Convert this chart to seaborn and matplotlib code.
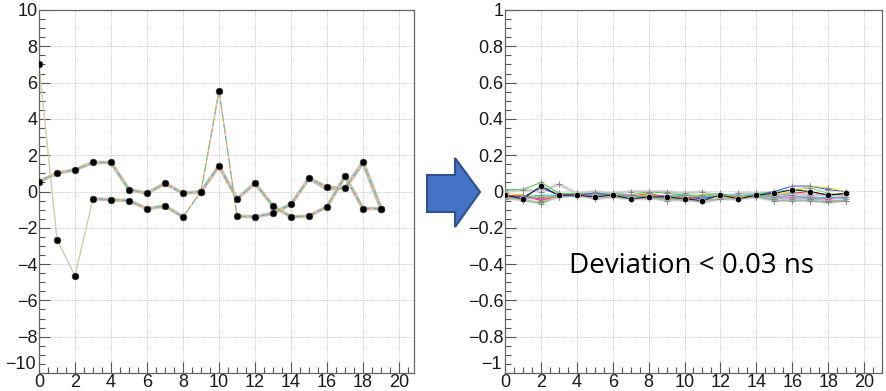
import numpy as np
import pandas as pd
import matplotlib
matplotlib.use("Agg")
import matplotlib.pyplot as plt
from matplotlib.patches import Polygon
from matplotlib.ticker import MultipleLocator, FuncFormatter
import seaborn as sns

# ---------------- data ----------------
channels = list(range(20))

left_upper = [0.55, 1.0, 1.2, 1.6, 1.6, 0.1, -0.1, 0.45, -0.1, 0.0,
              1.4, -0.4, 0.45, -0.8, -1.4, -1.35, -0.83, 0.84, -0.94, -0.94]
left_lower = [7.0, -2.65, -4.65, -0.4, -0.45, -0.5, -0.95, -0.8, -1.4, 0.0,
              5.55, -1.35, -1.4, -1.2, -0.7, 0.72, 0.24, 0.17, 1.6, -0.94]
left_lower_alt = [None] * 15 + [0.72, 0.13, 0.2, 1.6, -0.94]

right_series = {
    "g1": [0.01, 0.01, 0.05, -0.01, -0.01, -0.01, -0.01, -0.02, 0.00, -0.01,
           -0.02, -0.02, -0.01, -0.03, -0.02, -0.05, -0.05, -0.05, -0.06, -0.05],
    "g2": [-0.03, -0.04, -0.07, -0.02, -0.02, -0.02, -0.02, -0.03, -0.02, -0.03,
           -0.03, -0.04, -0.02, -0.03, -0.01, 0.00, 0.01, 0.02, -0.01, -0.02],
    "b1": [-0.02, -0.03, 0.02, -0.02, -0.02, -0.01, -0.02, -0.03, -0.02, -0.04,
           -0.03, -0.04, -0.02, -0.03, -0.02, 0.00, 0.03, 0.03, 0.01, 0.00],
    "r1": [-0.03, -0.02, -0.05, -0.02, -0.02, -0.02, -0.02, -0.03, -0.01, -0.03,
           -0.04, -0.03, -0.02, -0.03, -0.02, -0.02, -0.01, 0.00, -0.02, -0.01],
    "m1": [-0.02, -0.03, -0.04, -0.02, -0.02, -0.02, -0.02, -0.02, -0.03, -0.02,
           -0.03, -0.03, -0.02, -0.04, -0.02, -0.03, -0.03, -0.03, -0.04, -0.03],
    "y1": [-0.01, -0.02, -0.03, -0.03, -0.02, -0.03, -0.02, -0.03, -0.02, -0.04,
           -0.03, -0.02, -0.03, -0.03, -0.02, -0.02, 0.00, 0.03, 0.02, 0.00],
    "c1": [-0.04, -0.03, -0.02, -0.02, -0.03, -0.02, -0.02, -0.03, -0.03, -0.03,
           -0.02, -0.03, -0.02, -0.02, -0.02, -0.03, -0.02, -0.04, -0.03, -0.04],
    "k2": [-0.03, -0.05, -0.06, -0.03, -0.02, -0.04, -0.03, -0.04, -0.03, -0.05,
           -0.04, -0.06, -0.04, -0.04, -0.03, -0.05, -0.05, -0.05, -0.06, -0.05],
    "k3": [0.00, 0.01, 0.00, 0.04, -0.01, 0.00, -0.01, 0.00, 0.00, 0.00,
           -0.01, 0.00, -0.03, -0.01, -0.01, -0.02, -0.01, -0.02, -0.02, -0.03],
    "k4": [-0.04, -0.04, -0.03, -0.03, -0.02, -0.03, -0.03, -0.04, -0.04, -0.04,
           -0.05, -0.05, -0.04, -0.04, -0.03, -0.04, -0.04, -0.04, -0.05, -0.05],
    "k1": [-0.02, -0.04, 0.03, -0.02, -0.02, -0.03, -0.02, -0.04, -0.03, -0.03,
           -0.04, -0.05, -0.02, -0.04, -0.02, -0.01, 0.01, 0.00, -0.02, -0.01],
}
right_colors = {"g1": "#33cc33", "g2": "#66dd66", "b1": "#3344ff", "r1": "#ee2222",
                "m1": "#ee33ee", "y1": "#dddd00", "c1": "#22cccc", "k2": "#b0b0b0",
                "k3": "#c4c4c4", "k4": "#a8a8a8", "k1": "#111111"}

annotation = "Deviation < 0.03 ns"

# ---------------- figure ----------------
sns.set_style("white")
plt.rcParams["font.family"] = ["Liberation Sans", "DejaVu Sans"]

fig = plt.figure(figsize=(8.87, 3.91), dpi=100)
W, H = 887, 391
axL = fig.add_axes([39 / W, 1 - 373 / H, 375 / W, 363 / H])
axR = fig.add_axes([505 / W, 1 - 373 / H, 377 / W, 363 / H])


def fmt_num(v):
    if abs(v) < 1e-9:
        return "0"
    s = f"{abs(v):.1f}".rstrip("0").rstrip(".")
    return ("\u2212" if v < 0 else "") + s


def style_axis(ax, xlim, ylim, ymaj, ymin):
    ax.set_xlim(*xlim)
    ax.set_ylim(*ylim)
    ax.xaxis.set_major_locator(MultipleLocator(2))
    ax.xaxis.set_minor_locator(MultipleLocator(0.5))
    ax.yaxis.set_major_locator(MultipleLocator(ymaj))
    ax.yaxis.set_minor_locator(MultipleLocator(ymin))
    lo = ylim[0]
    # lowest y label is drawn separately (raised slightly, ROOT-style)
    ax.yaxis.set_major_formatter(FuncFormatter(
        lambda v, p: "" if abs(v - lo) < 1e-9 else fmt_num(v)))
    ax.annotate(fmt_num(lo), xy=(0, 0), xycoords="axes fraction",
                xytext=(-2.5, 0), textcoords="offset points",
                ha="right", va="bottom", fontsize=13, color="#1a1a1a")
    ax.grid(True, which="major", linestyle=(0, (1, 1.2)), color="#c4c4c4", lw=0.7)
    ax.tick_params(which="major", direction="in", length=8, width=0.8, color="#555555",
                   labelsize=13, labelcolor="#1a1a1a", pad=1,
                   bottom=True, left=True, top=False, right=False)
    ax.tick_params(which="minor", direction="in", length=4, width=0.8, color="#555555",
                   bottom=True, left=True, top=False, right=False)
    for s in ax.spines.values():
        s.set_color("#666666")
        s.set_linewidth(0.9)
    ax.set_xlabel("")
    ax.set_ylabel("")
    ax.set_axisbelow(True)


# ----- left panel -----
def seg_df(vals, idx, name):
    return pd.DataFrame({"x": [channels[i] for i in idx],
                         "y": [vals[i] for i in idx], "seg": name})

thick = pd.concat([
    seg_df(left_upper, range(0, 20), "u"),
    seg_df(left_lower, range(3, 9), "l1"),
    seg_df(left_lower, range(11, 20), "l2"),
    seg_df(left_lower_alt, range(15, 20), "l3"),
])
thin = pd.concat([
    seg_df(left_lower, range(0, 4), "t1"),
    seg_df(left_lower, range(8, 12), "t2"),
])
sns.lineplot(data=thick, x="x", y="y", units="seg", estimator=None, sort=False,
             color="#c6c4b8", lw=2.6, ax=axL)
sns.lineplot(data=thin, x="x", y="y", units="seg", estimator=None, sort=False,
             color="#cfcbb0", lw=1.0, ax=axL)
dash_cols = ["#ff6666", "#44dd44", "#6677ff", "#dddd55"]
for k, c in enumerate(dash_cols):
    for dfp in (seg_df(left_upper, range(0, 20), "u"), seg_df(left_lower, range(3, 20), "l")):
        sns.lineplot(data=dfp, x="x", y="y", estimator=None, sort=False, color=c,
                     lw=0.7, alpha=0.8, ax=axL, dashes=False,
                     linestyle=(k * 3, (3, 9)))
pts = pd.DataFrame({"x": channels * 2, "y": left_upper + left_lower})
sns.scatterplot(data=pts, x="x", y="y", color="black", s=24, edgecolor="#444444",
                linewidth=0.4, ax=axL, zorder=5)
style_axis(axL, (0, 20.83), (-10, 10), 2, 0.5)

# ----- right panel -----
rows = []
for name, vals in right_series.items():
    for xi, v in zip(channels, vals):
        rows.append({"x": xi, "y": v, "series": name})
rdf = pd.DataFrame(rows)
sns.lineplot(data=rdf[rdf.series.str.startswith("k") & (rdf.series != "k1")], x="x", y="y",
             units="series", estimator=None, color="#d8d8d8", lw=2.2, ax=axR)
sns.lineplot(data=rdf, x="x", y="y", hue="series", palette=right_colors,
             estimator=None, lw=0.7, ax=axR, legend=False)
sns.scatterplot(data=rdf[rdf.series != "k1"], x="x", y="y", color="#888888", marker="+",
                s=14, linewidth=0.7, ax=axR, zorder=4)
sns.scatterplot(data=rdf[rdf.series == "k1"], x="x", y="y", color="black", s=20,
                ax=axR, zorder=5)
style_axis(axR, (0, 21.0), (-1, 1), 0.2, 0.05)

axR.text(10.4, -0.448, annotation, ha="center", va="baseline",
         fontsize=20, family=["Open Sans", "DejaVu Sans"], color="black")

# ----- arrow -----
arrow_px = [(427, 175), (455, 175), (455, 158), (480, 192), (455, 227), (455, 212), (427, 212)]
arrow = Polygon([(x / W, 1 - y / H) for x, y in arrow_px], closed=True,
                facecolor="#4472C4", edgecolor="#2F528F", lw=1.5,
                transform=fig.transFigure)
fig.patches.append(arrow)

fig.savefig("out.png", dpi=100)
